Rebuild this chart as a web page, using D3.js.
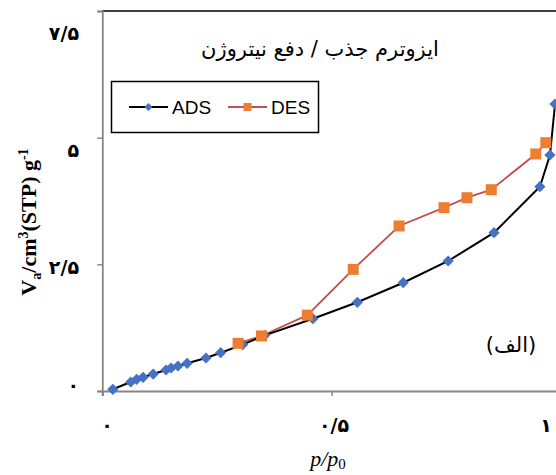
<!DOCTYPE html>
<html>
<head>
<meta charset="utf-8">
<script src="https://cdn.jsdelivr.net/npm/d3@7"></script>
<style>
  body { margin: 0; background: #fff; }
  svg { display: block; }
</style>
</head>
<body>
<div id="chart"></div>
<script>
let width = 556
let height = 475

// adsorption branch (p/p0, volume)
let adsX = [0.023, 0.062, 0.075, 0.089, 0.111, 0.139, 0.150, 0.165, 0.185, 0.226, 0.258,
  0.306, 0.354, 0.459, 0.556, 0.656, 0.754, 0.854, 0.954, 0.976, 0.987]
let adsY = [0.034, 0.178, 0.231, 0.270, 0.335, 0.414, 0.454, 0.493, 0.547, 0.651, 0.756,
  0.914, 1.099, 1.427, 1.751, 2.137, 2.566, 3.124, 4.032, 4.658, 5.664]

// desorption branch
let desX = [0.296, 0.347, 0.447, 0.547, 0.647, 0.745, 0.795, 0.848, 0.945, 0.967]
let desY = [0.941, 1.086, 1.497, 2.400, 3.257, 3.618, 3.815, 3.973, 4.678, 4.901]

// tick values and their persian labels
let xTicks = [0, 0.5, 1]
let xTickLabels = ["۰", "۰/۵", "۱"]
let yTicks = [0, 2.5, 5, 7.5]
let yTickLabels = ["۰", "۲/۵", "۵", "۷/۵"]

let title = "ایزوترم جذب / دفع نیتروژن"
let panelLabel = "(الف)"
let seriesNames = ["ADS", "DES"]

let ads = adsX.map((x, i) => ({ x: x, y: adsY[i] }))
let des = desX.map((x, i) => ({ x: x, y: desY[i] }))

let svg = d3.select("#chart").append("svg")
  .attr("width", width)
  .attr("height", height)

svg.append("rect").attr("width", width).attr("height", height).attr("fill", "#fff")

// scales (plot keeps going past the right edge of the window)
let x = d3.scaleLinear().domain([0, 1]).range([102.3, 561])
let y = d3.scaleLinear().domain([0, 7.5]).range([391, 11])

// the tick labels in the picture sit a little off their ticks
let xLab = d3.scaleLinear().domain(xTicks).range([107, 334, 546])
let yLab = d3.scaleLinear().domain([0, 7.5]).range([385, 33])

// frame: top border black
svg.append("line")
  .attr("x1", x(0)).attr("x2", width)
  .attr("y1", y(7.5)).attr("y2", y(7.5))
  .attr("stroke", "#000").attr("stroke-width", 1.5)

// axes
let yAxis = svg.append("g")
  .attr("transform", "translate(" + x(0) + ",0)")
  .call(d3.axisLeft(y).tickValues(yTicks).tickSize(5).tickFormat(""))
let xAxis = svg.append("g")
  .attr("transform", "translate(0," + y(0) + ")")
  .call(d3.axisBottom(x).tickValues(xTicks).tickSize(5).tickFormat(""))

yAxis.select(".domain").attr("stroke", "#868686").attr("stroke-width", 1.8)
xAxis.select(".domain").attr("stroke", "#868686").attr("stroke-width", 2.2)
svg.selectAll(".tick line").attr("stroke", "#868686").attr("stroke-width", 1.5)

svg.selectAll(".xlab")
  .data(xTicks)
  .enter()
  .append("text")
  .attr("x", d => xLab(d))
  .attr("y", 432)
  .attr("text-anchor", "middle")
  .style("font-family", "DejaVu Sans")
  .style("font-weight", "bold")
  .style("font-size", "19px")
  .text((d, i) => xTickLabels[i])

svg.selectAll(".ylab")
  .data(yTicks)
  .enter()
  .append("text")
  .attr("x", 79)
  .attr("y", d => yLab(d))
  .attr("dy", "0.35em")
  .attr("text-anchor", "end")
  .style("font-family", "DejaVu Sans")
  .style("font-weight", "bold")
  .style("font-size", "19px")
  .text((d, i) => yTickLabels[i])

// lines
let line = d3.line().x(d => x(d.x)).y(d => y(d.y))

svg.append("path")
  .datum(des)
  .attr("d", line)
  .attr("fill", "none")
  .attr("stroke", "#C0504D")
  .attr("stroke-width", 1.8)

svg.append("path")
  .datum(ads)
  .attr("d", line)
  .attr("fill", "none")
  .attr("stroke", "#000")
  .attr("stroke-width", 2)

let diamond = d3.symbol().type(d3.symbolDiamond2).size(80)
let square = d3.symbol().type(d3.symbolSquare).size(121)

svg.selectAll(".ads")
  .data(ads)
  .enter()
  .append("path")
  .attr("transform", d => "translate(" + x(d.x) + "," + y(d.y) + ")")
  .attr("d", diamond)
  .attr("fill", "#4472C4")

svg.selectAll(".des")
  .data(des)
  .enter()
  .append("path")
  .attr("transform", d => "translate(" + x(d.x) + "," + y(d.y) + ")")
  .attr("d", square)
  .attr("fill", "#ED7D31")

// title
svg.append("text")
  .attr("x", 320)
  .attr("y", 56)
  .attr("text-anchor", "middle")
  .attr("direction", "rtl")
  .style("font-family", "DejaVu Sans")
  .style("font-size", "21px")
  .text(title)

svg.append("text")
  .attr("x", 511)
  .attr("y", 352)
  .attr("text-anchor", "middle")
  .attr("direction", "rtl")
  .style("font-family", "DejaVu Sans")
  .style("font-size", "21px")
  .text(panelLabel)

// legend
let legend = svg.append("g")
legend.append("rect")
  .attr("x", 111.5).attr("y", 81.5)
  .attr("width", 207).attr("height", 51)
  .attr("fill", "#fff")
  .attr("stroke", "#000").attr("stroke-width", 1.5)

let legItems = [
  { name: seriesNames[0], x0: 129, stroke: "#000", fill: "#4472C4", sym: d3.symbol().type(d3.symbolDiamond2).size(40) },
  { name: seriesNames[1], x0: 228, stroke: "#C0504D", fill: "#ED7D31", sym: d3.symbol().type(d3.symbolSquare).size(64) }
]
legItems.forEach(it => {
  legend.append("line")
    .attr("x1", it.x0).attr("x2", it.x0 + 39)
    .attr("y1", 107).attr("y2", 107)
    .attr("stroke", it.stroke).attr("stroke-width", 1.8)
  legend.append("path")
    .attr("transform", "translate(" + (it.x0 + 19.5) + ",107)")
    .attr("d", it.sym)
    .attr("fill", it.fill)
  legend.append("text")
    .attr("x", it.x0 + 43)
    .attr("y", 114)
    .style("font-family", "Liberation Sans")
    .style("font-size", "19px")
    .text(it.name)
})

// axis titles
let yt = svg.append("text")
  .attr("transform", "translate(36,222) rotate(-90)")
  .attr("text-anchor", "middle")
  .style("font-family", "Liberation Serif")
  .style("font-weight", "bold")
  .style("font-size", "22px")
yt.append("tspan").text("V")
yt.append("tspan").attr("dy", 5).style("font-size", "14px").text("a")
yt.append("tspan").attr("dy", -5).text("/cm")
yt.append("tspan").attr("dy", -8).style("font-size", "14px").text("3")
yt.append("tspan").attr("dy", 8).text("(STP) g")
yt.append("tspan").attr("dy", -8).style("font-size", "14px").text("-1")

let xt = svg.append("text")
  .attr("x", 328)
  .attr("y", 466)
  .attr("text-anchor", "middle")
  .style("font-family", "Liberation Serif")
  .style("font-style", "italic")
  .style("font-size", "22px")
xt.append("tspan").text("p/p")
xt.append("tspan").attr("dy", 3).style("font-size", "15px").style("font-style", "normal").text("0")
</script>
</body>
</html>
